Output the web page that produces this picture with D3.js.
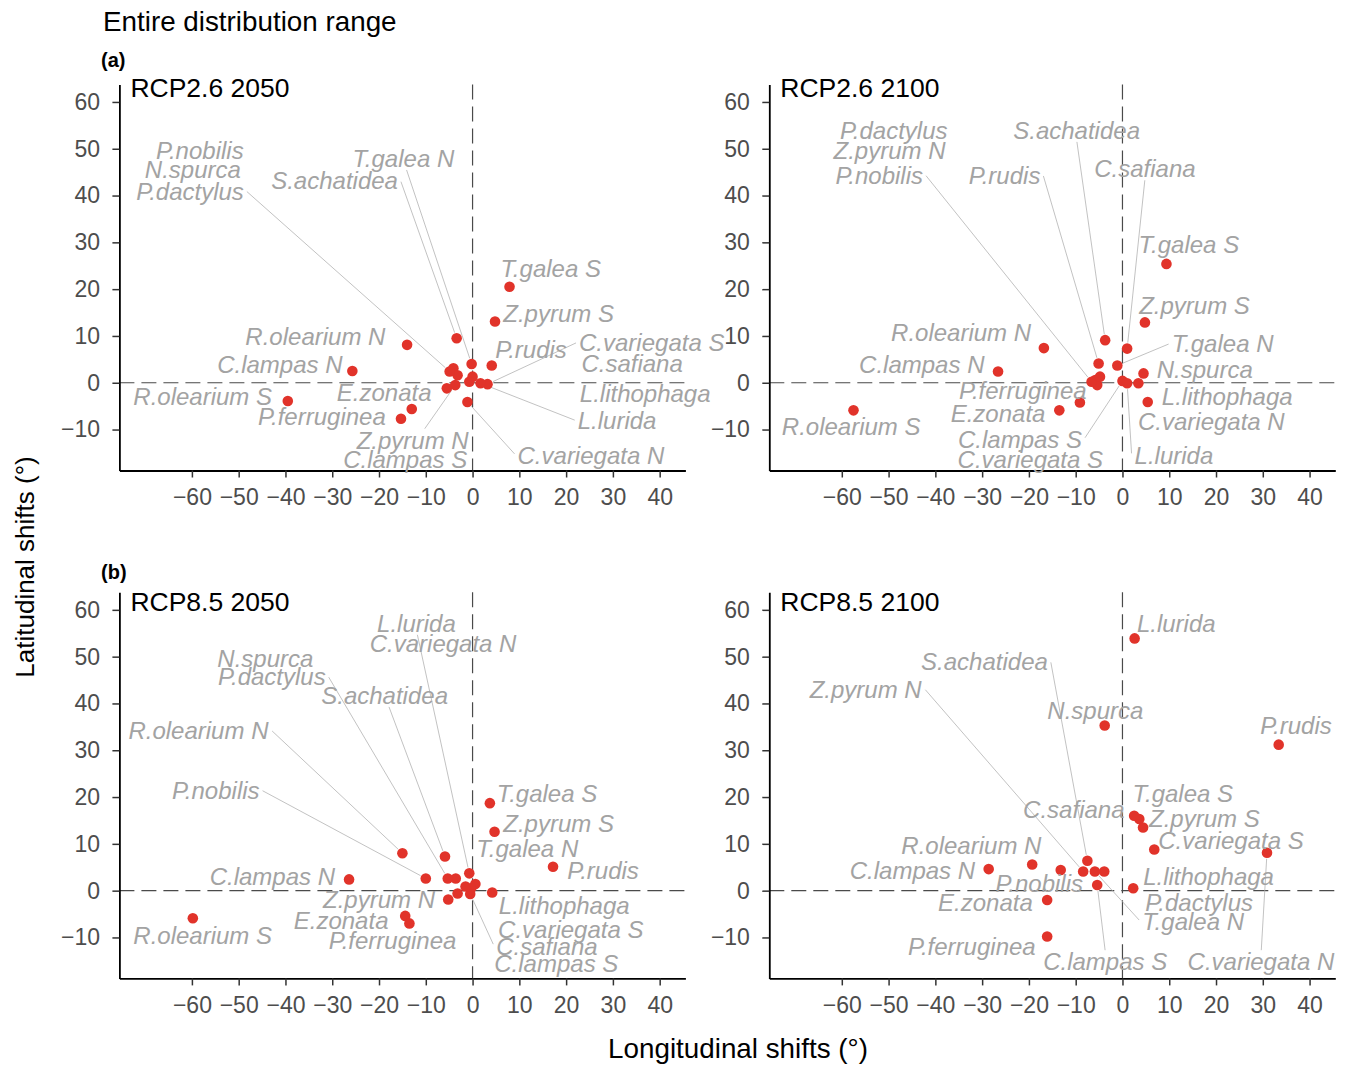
<!DOCTYPE html>
<html>
<head>
<meta charset="utf-8">
<script src="https://cdn.jsdelivr.net/npm/d3@7"></script>
<style>
  body { margin: 0; background: #fff; }
  svg text { font-family: "Liberation Sans", Arial, sans-serif; }
</style>
</head>
<body>
<svg id="chart" width="1346" height="1065"></svg>
<script>
// ── Data: [species, lon shift, lat shift, label lon, label lat, leader line] ──
const rcp26_2050 = [
  ['P.nobilis',     -4.1,  3.1, -58.3,  49.5, 0],
  ['N.spurca',      -3.2,  1.6, -59.8,  45.6, 0],
  ['P.dactylus',    -4.9,  2.4, -60.4,  40.9, 1],
  ['T.galea N',     -0.2,  4.0, -14.8,  47.9, 1],
  ['S.achatidea',   -3.4,  9.5, -29.5,  43.1, 1],
  ['T.galea S',      7.9, 20.5,  16.7,  24.3, 0],
  ['Z.pyrum S',      4.8, 13.1,  18.4,  14.7, 0],
  ['R.olearium N', -14.0,  8.1, -33.6,   9.9, 0],
  ['P.rudis',        4.1,  3.7,  12.5,   7.0, 0],
  ['C.variegata S',  3.2, -0.3,  38.3,   8.6, 1],
  ['C.lampas N',   -25.7,  2.5, -41.2,   3.8, 0],
  ['C.safiana',      0.0,  1.3,  34.1,   4.1, 0],
  ['L.lithophaga',  -0.7,  0.2,  36.9,  -2.3, 0],
  ['R.olearium S', -39.5, -3.9, -57.7,  -3.0, 0],
  ['E.zonata',     -13.0, -5.6, -18.9,  -2.1, 0],
  ['L.lurida',       1.7, -0.1,  30.9,  -8.1, 1],
  ['P.ferruginea', -15.3, -7.7, -32.2,  -7.3, 0],
  ['Z.pyrum N',     -3.7, -0.5, -12.8, -12.3, 1],
  ['C.lampas S',    -5.5, -1.2, -14.4, -16.4, 0],
  ['C.variegata N', -1.1, -4.1,  25.3, -15.5, 1]
]

const rcp26_2100 = [
  ['P.dactylus',    -5.8,  0.6, -48.9,  53.9, 0],
  ['Z.pyrum N',     -5.4, -0.5, -49.8,  49.6, 0],
  ['P.nobilis',     -6.6,  0.2, -52.0,  44.3, 1],
  ['P.rudis',       -5.1,  4.1, -25.2,  44.3, 1],
  ['S.achatidea',   -3.7,  9.1,  -9.8,  53.9, 1],
  ['C.safiana',      1.0,  7.3,   4.8,  45.7, 1],
  ['T.galea S',      9.4, 25.4,  14.2,  29.5, 0],
  ['Z.pyrum S',      4.8, 12.9,  15.4,  16.4, 0],
  ['R.olearium N', -16.8,  7.4, -34.5,  10.7, 0],
  ['T.galea N',     -1.1,  3.7,  21.4,   8.4, 1],
  ['C.lampas N',   -26.6,  2.4, -42.9,   3.8, 0],
  ['N.spurca',       4.5,  2.0,  17.6,   2.9, 0],
  ['P.ferruginea',  -9.1, -4.2, -21.3,  -1.7, 0],
  ['L.lithophaga',   3.4, -0.1,  22.4,  -3.0, 0],
  ['E.zonata',     -13.5, -5.9, -26.6,  -6.6, 0],
  ['C.variegata N',  5.4, -4.1,  19.0,  -8.2, 0],
  ['R.olearium S', -57.5, -5.9, -58.0,  -9.3, 0],
  ['C.lampas S',     0.0,  0.4, -21.9, -12.1, 1],
  ['C.variegata S', -4.8,  1.3, -19.7, -16.4, 0],
  ['L.lurida',       1.0, -0.1,  11.0, -15.5, 1]
]

const rcp85_2050 = [
  ['L.lurida',      -0.7,  3.7, -12.0,  57.1, 1],
  ['C.variegata N', -3.2, -0.6,  -6.3,  52.8, 0],
  ['N.spurca',      -3.6,  2.6, -44.3,  49.6, 0],
  ['P.dactylus',    -5.3,  2.6, -42.9,  45.7, 1],
  ['S.achatidea',   -5.9,  7.3, -18.8,  41.7, 1],
  ['R.olearium N', -15.0,  8.0, -58.6,  34.2, 1],
  ['P.nobilis',    -10.0,  2.6, -54.9,  21.4, 1],
  ['T.galea S',      3.7, 18.7,  15.9,  20.7, 0],
  ['Z.pyrum S',      4.7, 12.6,  18.4,  14.3, 0],
  ['T.galea N',      0.6,  1.4,  11.7,   8.9, 0],
  ['P.rudis',       17.2,  5.1,  27.9,   4.3, 0],
  ['C.lampas N',   -26.4,  2.4, -42.8,   3.0, 0],
  ['Z.pyrum N',     -5.2, -1.9, -20.0,  -2.0, 0],
  ['L.lithophaga',   4.2, -0.4,  19.6,  -3.1, 0],
  ['E.zonata',     -14.4, -5.4, -28.1,  -6.3, 0],
  ['R.olearium S', -59.8, -5.9, -57.7,  -9.5, 0],
  ['C.variegata S', -0.3,  0.5,  21.0,  -8.4, 0],
  ['P.ferruginea', -13.5, -7.0, -17.1, -10.6, 0],
  ['C.safiana',     -0.5, -0.7,  15.9, -11.9, 1],
  ['C.lampas S',    -1.5,  0.9,  17.9, -15.6, 0]
]

const rcp85_2100 = [
  ['L.lurida',       2.6, 53.9,  11.5,  57.1, 0],
  ['S.achatidea',   -7.5,  6.4, -29.5,  48.9, 1],
  ['Z.pyrum N',     -8.4,  4.1, -54.9,  43.0, 1],
  ['N.spurca',      -3.8, 35.3,  -5.8,  38.4, 0],
  ['P.rudis',       33.4, 31.2,  37.1,  35.3, 0],
  ['T.galea S',      3.6, 15.3,  12.9,  20.7, 0],
  ['C.safiana',      2.5, 16.0, -10.4,  17.3, 0],
  ['Z.pyrum S',      4.4, 13.5,  17.5,  15.5, 0],
  ['R.olearium N', -19.3,  5.6, -32.3,   9.6, 0],
  ['C.variegata S',  6.8,  8.8,  23.2,  10.7, 0],
  ['C.lampas N',   -28.6,  4.6, -44.9,   4.3, 0],
  ['L.lithophaga',   2.3,  0.5,  18.4,   2.9, 0],
  ['P.nobilis',    -13.2,  4.4, -17.8,   1.6, 0],
  ['E.zonata',     -16.1, -2.0, -29.3,  -2.6, 0],
  ['P.dactylus',    -3.9,  4.1,  16.4,  -2.6, 0],
  ['T.galea N',     -5.9,  4.1,  15.1,  -6.6, 1],
  ['P.ferruginea', -16.1, -9.8, -32.2, -11.9, 0],
  ['C.lampas S',    -5.4,  1.2,  -3.7, -15.2, 1],
  ['C.variegata N', 30.9,  8.1,  29.6, -15.2, 1]
]

const panelTitles = ['RCP2.6 2050', 'RCP2.6 2100', 'RCP8.5 2050', 'RCP8.5 2100']
const rowTags     = ['(a)', '(b)']
const xTicks = [-60, -50, -40, -30, -20, -10, 0, 10, 20, 30, 40]
const yTicks = [-10, 0, 10, 20, 30, 40, 50, 60]
const xDomain = [-75.5, 45.5]
const yDomain = [-18.75, 63.75]

// ── Layout ────────────────────────────────────────────────────────────────────
const PW = 566, PH = 386.1
const colLeft = [119.4, 769.3]
const rowTop  = [84.4, 592.3]
const titleBase = [97, 611]
const tagBase   = [67, 579]

const POINT = '#e1332a', LABEL = '#a3a3a3', LEADER = '#b3b3b3'

const svg = d3.select('#chart')

svg.append('text')
  .attr('x', 103).attr('y', 31)
  .attr('font-size', 27.8).attr('fill', '#000')
  .text('Entire distribution range')

svg.append('text')
  .attr('x', 738).attr('y', 1058)
  .attr('text-anchor', 'middle')
  .attr('font-size', 27.8).attr('fill', '#000')
  .text('Longitudinal shifts (°)')

svg.append('text')
  .attr('transform', 'translate(34,567) rotate(-90)')
  .attr('text-anchor', 'middle')
  .attr('font-size', 26).attr('fill', '#000')
  .text('Latitudinal shifts (°)')

rowTags.forEach((t, i) => {
  svg.append('text')
    .attr('x', 101).attr('y', tagBase[i])
    .attr('font-size', 20).attr('font-weight', 'bold').attr('fill', '#000')
    .text(t)
})

// ggrepel-style connection point on a label box
function connect(px, py, b) {
  let ox, oy, h = false, v = false
  if (px >= b.x0 && px <= b.x1) ox = px
  else if (px > b.x1) { ox = b.x1; h = true } else { ox = b.x0; h = true }
  if (py >= b.y0 && py <= b.y1) oy = py
  else if (py > b.y1) { oy = b.y1; v = true } else { oy = b.y0; v = true }
  const mx = (b.x0 + b.x1) / 2, my = (b.y0 + b.y1) / 2
  const d = Math.hypot(px - ox, py - oy)
  if (v && !h) {
    ox += (mx - ox) * d / Math.hypot(px - mx, py - oy)
  } else if (h && !v) {
    oy += (my - oy) * d / Math.hypot(px - ox, py - my)
  } else if (h && v) {
    const a1 = Math.hypot(px - mx, py - oy), a2 = Math.hypot(px - ox, py - my)
    if (a1 < a2) ox += (mx - ox) * d / a1
    else oy += (my - oy) * d / a2
  }
  return [ox, oy]
}

function drawPanel(rows, idx) {
  const r = Math.floor(idx / 2), c = idx % 2
  const left = colLeft[c], top = rowTop[r]
  const x = d3.scaleLinear().domain(xDomain).range([left, left + PW])
  const y = d3.scaleLinear().domain(yDomain).range([top + PH, top])
  const g = svg.append('g')

  // reference lines
  g.append('line')
    .attr('x1', left).attr('x2', left + PW).attr('y1', y(0)).attr('y2', y(0))
    .attr('stroke', '#4a4a4a').attr('stroke-width', 1.2).attr('stroke-dasharray', '15,7')
  g.append('line')
    .attr('x1', x(0)).attr('x2', x(0)).attr('y1', top).attr('y2', top + PH)
    .attr('stroke', '#4a4a4a').attr('stroke-width', 1.2).attr('stroke-dasharray', '15,7')

  // axes
  const xa = g.append('g').attr('transform', `translate(0,${top + PH})`)
    .call(d3.axisBottom(x).tickValues(xTicks).tickSize(7).tickPadding(11).tickSizeOuter(0))
  const ya = g.append('g').attr('transform', `translate(${left},0)`)
    .call(d3.axisLeft(y).tickValues(yTicks).tickSize(7).tickPadding(12.4).tickSizeOuter(0))
  ;[xa, ya].forEach(a => {
    a.select('.domain').attr('stroke', '#000').attr('stroke-width', 1.8)
    a.selectAll('.tick line').attr('stroke', '#333').attr('stroke-width', 1.5)
    a.selectAll('.tick text').attr('font-size', 23).attr('fill', '#4d4d4d')
      .attr('font-family', '"Liberation Sans", Arial, sans-serif')
  })

  g.append('text')
    .attr('x', left + 11).attr('y', titleBase[r])
    .attr('font-size', 26.5).attr('fill', '#000')
    .text(panelTitles[idx])

  const segLayer = g.append('g')

  g.append('g').selectAll('circle').data(rows).join('circle')
    .attr('cx', d => x(d[1])).attr('cy', d => y(d[2])).attr('r', 5.3)
    .attr('fill', POINT)

  const labels = g.append('g').selectAll('text').data(rows).join('text')
    .attr('x', d => x(d[3])).attr('y', d => y(d[4])).attr('dy', '0.35em')
    .attr('text-anchor', 'middle')
    .attr('font-size', 24).attr('font-style', 'italic').attr('fill', LABEL)
    .text(d => d[0])

  labels.each(function (d) {
    if (!d[5]) return
    const bb = this.getBBox()
    const box = { x0: bb.x - 3, x1: bb.x + bb.width + 3, y0: bb.y + 2, y1: bb.y + bb.height - 2 }
    const px = x(d[1]), py = y(d[2])
    const [sx, sy] = connect(px, py, box)
    const len = Math.hypot(px - sx, py - sy)
    const k = (len - 6) / len
    segLayer.append('line')
      .attr('x1', sx).attr('y1', sy)
      .attr('x2', sx + (px - sx) * k).attr('y2', sy + (py - sy) * k)
      .attr('stroke', LEADER).attr('stroke-width', 0.8)
  })
}

;[rcp26_2050, rcp26_2100, rcp85_2050, rcp85_2100].forEach(drawPanel)
</script>
</body>
</html>
